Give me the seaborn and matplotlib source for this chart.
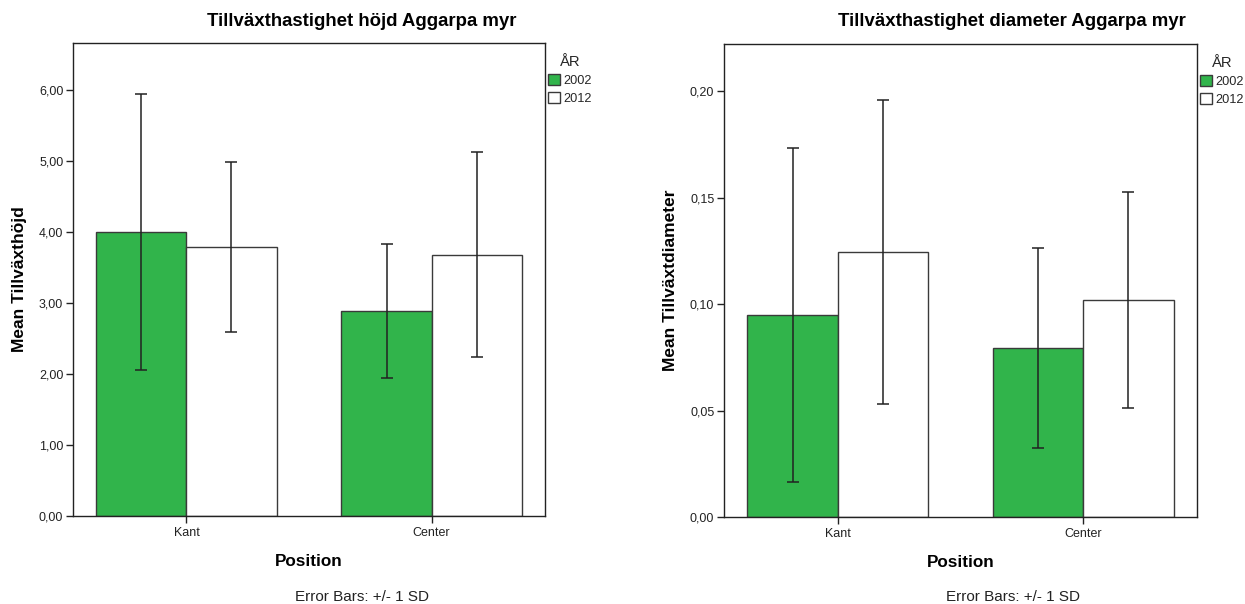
import matplotlib
matplotlib.use("Agg")
import matplotlib.pyplot as plt
from matplotlib.ticker import FuncFormatter, MultipleLocator
import seaborn as sns
import pandas as pd

# ---- data ----
positions = ["Kant", "Center"]
years = ["2002", "2012"]

height_mean_2002 = [4.00, 2.89]
height_mean_2012 = [3.79, 3.68]
height_sd_2002 = [1.94, 0.945]
height_sd_2012 = [1.20, 1.445]

diam_mean_2002 = [0.0948, 0.0793]
diam_mean_2012 = [0.1245, 0.1020]
diam_sd_2002 = [0.0783, 0.0471]
diam_sd_2012 = [0.0714, 0.0506]

titles = ["Tillväxthastighet höjd Aggarpa myr", "Tillväxthastighet diameter Aggarpa myr"]
ylabels = ["Mean Tillväxthöjd", "Mean Tillväxtdiameter"]
xlabel = "Position"
footnote = "Error Bars: +/- 1 SD"
legend_title = "ÅR"

GREEN = "#31b44b"
EDGE = "#3a3a3a"
DARK = "#222222"

sns.set_theme(style="white")
plt.rcParams["font.family"] = ["Liberation Sans", "DejaVu Sans"]

fig = plt.figure(figsize=(12.45, 6.04), dpi=100)
W, H = 1245, 604


def make_df(m02, m12):
    rows = []
    for p, v in zip(positions, m02):
        rows.append({"Position": p, "ÅR": years[0], "mean": v})
    for p, v in zip(positions, m12):
        rows.append({"Position": p, "ÅR": years[1], "mean": v})
    return pd.DataFrame(rows)


panels = [
    dict(rect=(73, 43, 545, 516), m02=height_mean_2002, m12=height_mean_2012,
         s02=height_sd_2002, s12=height_sd_2012, ymax=6.66, step=1.0,
         title_x=362, foot_x=362),
    dict(rect=(724, 44, 1197, 517), m02=diam_mean_2002, m12=diam_mean_2012,
         s02=diam_sd_2002, s12=diam_sd_2012, ymax=0.2221, step=0.05,
         title_x=1012, foot_x=1013),
]

fmt = FuncFormatter(lambda v, _: f"{v:.2f}".replace(".", ","))

for i, pn in enumerate(panels):
    x0, y0, x1, y1 = pn["rect"]
    ax = fig.add_axes([x0 / W, 1 - y1 / H, (x1 - x0) / W, (y1 - y0) / H])
    df = make_df(pn["m02"], pn["m12"])
    sns.barplot(data=df, x="Position", y="mean", hue="ÅR", order=positions,
                hue_order=years, palette={years[0]: GREEN, years[1]: "white"},
                width=0.735, edgecolor=EDGE, linewidth=1.0, errorbar=None,
                saturation=1, ax=ax)
    sds = [pn["s02"], pn["s12"]]
    for cont, sd in zip(ax.containers, sds):
        for bar, s in zip(cont, sd):
            cx = bar.get_x() + bar.get_width() / 2
            ax.errorbar(cx, bar.get_height(), yerr=s, fmt="none", ecolor=DARK,
                        elinewidth=1.1, capsize=4.6, capthick=1.1, zorder=5)
    ax.set_xlim(-0.463, 1.463)
    ax.set_ylim(0, pn["ymax"])
    ax.yaxis.set_major_locator(MultipleLocator(pn["step"]))
    ax.yaxis.set_major_formatter(fmt)
    for sp in ax.spines.values():
        sp.set_visible(True)
        sp.set_color(DARK)
        sp.set_linewidth(1.0)
    ax.tick_params(axis="both", which="major", direction="out", length=5,
                   width=1, color=DARK, labelsize=9, labelcolor=DARK,
                   left=True, bottom=True)
    ax.tick_params(axis="y", pad=2)
    ax.tick_params(axis="x", pad=3)
    ax.set_xlabel(xlabel, fontsize=12.3, fontweight="bold", color="black")
    ax.xaxis.set_label_coords(0.5, -0.096)
    ax.xaxis.label.set_va("center")
    ax.set_ylabel(ylabels[i], fontsize=12.5, fontweight="bold", color="black")
    ax.yaxis.set_label_coords(-0.113, 0.5)
    ax.yaxis.label.set_va("center")

    sns.move_legend(ax, "upper left", bbox_to_anchor=(1.004, 0.978),
                    frameon=False, title=legend_title, fontsize=9.2,
                    title_fontsize=10.6, borderaxespad=0, borderpad=0.1,
                    handlelength=0.95, handleheight=0.9, handletextpad=0.25,
                    labelspacing=0.42)
    leg = ax.get_legend()
    for h in leg.legend_handles:
        h.set_edgecolor(EDGE)
        h.set_linewidth(1.0)

    fig.text(pn["title_x"] / W, 1 - 21 / H, titles[i], ha="center", va="center",
             fontsize=13.4, fontweight="bold", color="black")
    fig.text(pn["foot_x"] / W, 1 - 597 / H, footnote, ha="center", va="center",
             fontsize=11, color=DARK)

fig.savefig("out.png", dpi=100, facecolor="white")
